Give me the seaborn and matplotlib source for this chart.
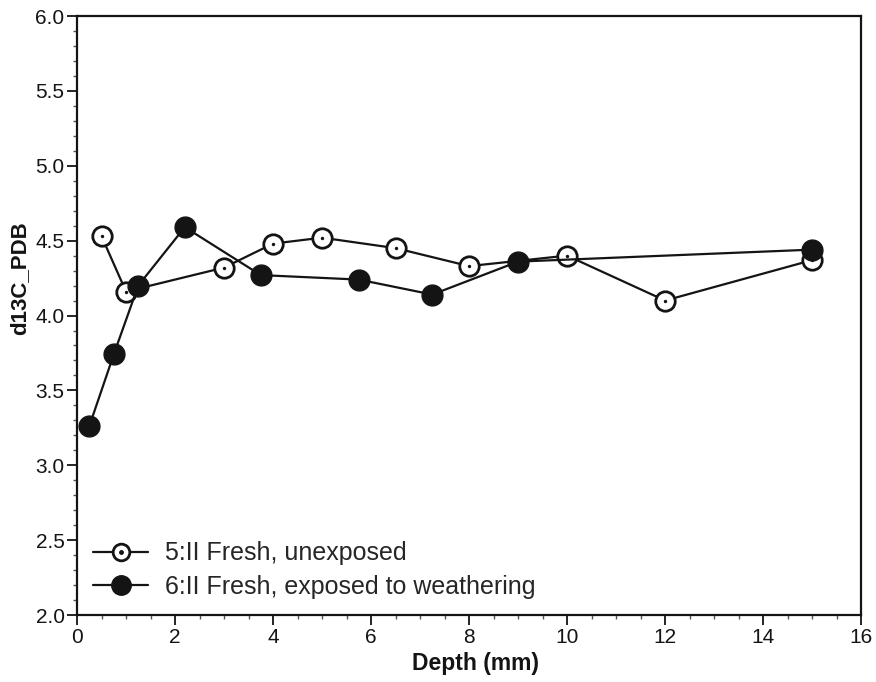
import matplotlib
matplotlib.use("Agg")
import matplotlib.pyplot as plt
import seaborn as sns
import pandas as pd
from matplotlib.lines import Line2D
from matplotlib.legend_handler import HandlerTuple
from matplotlib.ticker import MultipleLocator

# Data
depth_unexposed = [0.5, 1.0, 3.0, 4.0, 5.0, 6.5, 8.0, 10.0, 12.0, 15.0]
d13c_unexposed = [4.53, 4.16, 4.32, 4.48, 4.52, 4.45, 4.33, 4.40, 4.10, 4.37]
depth_exposed = [0.25, 0.75, 1.25, 2.2, 3.75, 5.75, 7.25, 9.0, 15.0]
d13c_exposed = [3.26, 3.74, 4.20, 4.59, 4.27, 4.24, 4.14, 4.36, 4.44]
label_unexposed = "5:II Fresh, unexposed"
label_exposed = "6:II Fresh, exposed to weathering"

sns.set_theme(style="ticks")
plt.rcParams['font.family'] = ['Liberation Sans', 'DejaVu Sans']

df_u = pd.DataFrame({"x": depth_unexposed, "y": d13c_unexposed})
df_e = pd.DataFrame({"x": depth_exposed, "y": d13c_exposed})

ink = "#141414"
fig = plt.figure(figsize=(8.76, 6.82), dpi=100)
ax = fig.add_axes([0.0879, 0.0982, 0.8951, 0.8783])

sns.lineplot(data=df_u, x="x", y="y", ax=ax, sort=False, color=ink, lw=1.6,
             marker="o", markersize=14, markerfacecolor="white",
             markeredgecolor=ink, markeredgewidth=2.0, zorder=3)
sns.lineplot(data=df_e, x="x", y="y", ax=ax, sort=False, color=ink, lw=1.6,
             marker="o", markersize=15, markerfacecolor=ink,
             markeredgecolor=ink, markeredgewidth=1.0, zorder=4)
sns.scatterplot(data=df_u, x="x", y="y", ax=ax, color=ink, s=6,
                edgecolor=ink, linewidth=0, zorder=5, legend=False)

ax.set_xlim(0, 16)
ax.set_ylim(2.0, 6.0)
ax.xaxis.set_major_locator(MultipleLocator(2))
ax.xaxis.set_minor_locator(MultipleLocator(0.5))
ax.yaxis.set_major_locator(MultipleLocator(0.5))
ax.yaxis.set_minor_locator(MultipleLocator(0.1))
ax.set_yticklabels([f"{v:.1f}" for v in ax.get_yticks()])
ax.tick_params(axis="both", which="major", direction="out", length=7,
               width=1.3, labelsize=15, color=ink, labelcolor=ink, pad=2)
ax.tick_params(axis="both", which="minor", direction="out", length=3,
               width=1.0, color="#555555")
for s in ax.spines.values():
    s.set_linewidth(1.6)
    s.set_color(ink)

ax.set_xlabel("Depth (mm)", fontsize=16.5, fontweight="bold", color=ink)
ax.set_ylabel("d13C_PDB", fontsize=16, fontweight="bold", color=ink)
ax.xaxis.set_label_coords(0.508, -0.062)
ax.yaxis.set_label_coords(-0.060, 0.563)

h_u = Line2D([], [], color=ink, lw=1.6, marker="o", markersize=12,
             markerfacecolor="white", markeredgecolor=ink, markeredgewidth=2.0)
h_u_dot = Line2D([], [], ls="none", marker="o", markersize=2.5, color=ink)
h_e = Line2D([], [], color=ink, lw=1.6, marker="o", markersize=14,
             markerfacecolor=ink, markeredgecolor=ink)
ax.legend([(h_u, h_u_dot), h_e], [label_unexposed, label_exposed],
          handler_map={tuple: HandlerTuple(ndivide=1)},
          loc="lower left", bbox_to_anchor=(0.0, 0.0), frameon=False,
          fontsize=18, handlelength=2.2, handletextpad=0.65, labelspacing=0.38,
          borderaxespad=0.25)

fig.savefig("out.png", dpi=100)
